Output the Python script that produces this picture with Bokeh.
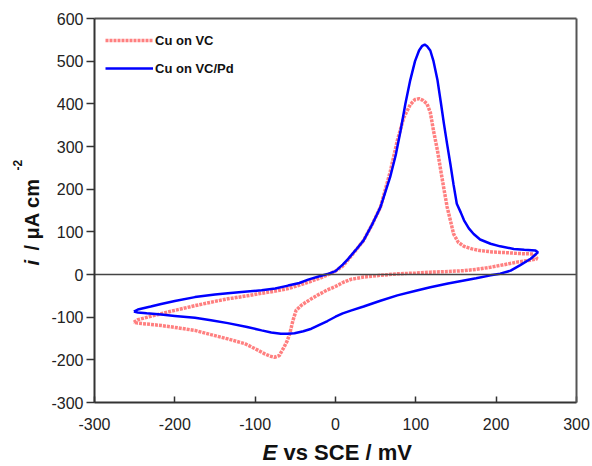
import math
from bokeh.plotting import figure
from bokeh.models import Range1d, Label, Legend, LegendItem, FixedTicker, LinearAxis
from bokeh.embed import file_html
from bokeh.resources import INLINE

# ---- data ----
vc_E = [-251, -246, -230, -217, -200, -175, -150, -134, -110, -92, -75, -59, -45, -34, -20, -10, 0, 9, 15, 25, 35,
        45, 56, 68, 77, 85, 93, 99, 104, 109, 114, 118, 122, 127, 131, 135, 139, 143, 147, 153, 160, 170, 180, 195,
        214, 230, 247, 251,
        240, 226, 210, 193, 175, 160, 140, 118, 100, 77, 55, 35, 20, 10, 0, -10, -20, -30, -37, -43, -49, -53, -57,
        -60, -64, -70, -76, -82, -88, -100, -113, -134, -155, -175, -200, -217, -235, -246, -251]
vc_i = [-112, -106, -98, -92, -84, -73, -63, -57, -50, -44, -39, -33, -25, -18, -9, -1, 8, 20, 33, 56, 80,
        115, 158, 240, 314, 368, 398, 410, 412, 408, 400, 380, 337, 290, 244, 200, 158, 127, 95, 75, 66, 60, 56, 53,
        51, 49, 48, 37,
        33, 29, 23, 17, 12, 9, 7, 5.5, 3.5, 1.5, -2, -6, -11, -18, -28, -36, -46, -57, -65, -73, -84, -108, -139,
        -155, -170, -190, -194, -191, -186, -174, -162, -151, -141, -131, -124, -119.5, -116, -114, -112]

pd_E = [-251, -246, -230, -217, -200, -175, -150, -134, -110, -92, -75, -59, -45, -34, -20, -10, 0, 9, 15, 25, 35,
        45, 56, 68, 75, 81, 87, 93, 99, 104, 108, 111, 114, 118, 122, 127, 131, 135, 139, 143, 147, 151, 156, 160,
        166, 172, 180, 193, 205, 222, 235, 249, 252,
        243, 230, 218, 205, 193, 175, 160, 140, 118, 100, 77, 55, 35, 20, 9, 0, -10, -20, -30, -40, -51, -60, -68,
        -80, -92, -110, -134, -155, -175, -200, -217, -235, -246, -251]
pd_i = [-87, -82, -75, -69, -62, -53, -47, -44, -40, -37, -33, -26, -20, -12, -4, 1, 8, 23, 35, 57, 80,
        115, 158, 228, 280, 337, 400, 455, 500, 525, 536, 539, 535, 525, 500, 455, 405, 353, 305, 259, 210, 166, 145,
        127, 108, 95, 82, 72, 66, 60, 58, 56, 52,
        37, 22, 9, 2, -2, -9, -14, -21, -30, -38, -49, -62, -75, -84, -91, -99, -109, -118, -127, -133, -137.5, -139,
        -139, -136, -131, -123, -114, -107, -101.5, -97, -94, -91, -89, -87]

x_ticks = [-300, -200, -100, 0, 100, 200, 300]
y_ticks = [-300, -200, -100, 0, 100, 200, 300, 400, 500, 600]
series_names = ["Cu on VC", "Cu on VC/Pd"]

FONT = "Liberation Sans"

# ---- layout: the frame covers the whole canvas; axes are pinned with fixed_location ----
W, H = 592, 466
PX_L, PX_R, PX_T, PX_B = 94, 576, 18, 402          # pixel box of the plotted region
XMIN, XMAX = x_ticks[0], x_ticks[-1]
YMIN, YMAX = y_ticks[0], y_ticks[-1]
ux = (XMAX - XMIN) / (PX_R - PX_L)
uy = (YMAX - YMIN) / (PX_B - PX_T)

p = figure(width=W, height=H, output_backend="svg", toolbar_location=None,
           x_range=Range1d(XMIN - PX_L * ux, XMAX + (W - PX_R) * ux),
           y_range=Range1d(YMIN - (H - PX_B) * uy, YMAX + PX_T * uy),
           min_border=0, min_border_left=0, min_border_right=0, min_border_top=0, min_border_bottom=0)
p.grid.visible = False
p.outline_line_color = None

xa = p.xaxis[0]
ya = p.yaxis[0]
xa.fixed_location = YMIN
ya.fixed_location = XMIN
xa.bounds = (XMIN, XMAX)
ya.bounds = (YMIN, YMAX)
for ax in (xa, ya):
    ax.axis_line_color = "#333333"
    ax.axis_line_width = 2
    ax.major_tick_line_color = "#333333"
    ax.major_tick_line_width = 1.5
    ax.minor_tick_line_color = None
    ax.major_label_text_font = FONT
    ax.major_label_text_font_size = "16px"
    ax.major_label_text_color = "#222222"
xa.ticker = FixedTicker(ticks=x_ticks)
ya.ticker = FixedTicker(ticks=y_ticks)
xa.major_label_overrides = {t: str(t) for t in x_ticks}
ya.major_label_overrides = {t: str(t) for t in y_ticks}
xa.major_tick_in = 6
xa.major_tick_out = 0
xa.major_label_standoff = 15
ya.major_tick_in = 0
ya.major_tick_out = 8
ya.major_label_standoff = 3


def frame_axis(side, loc, bounds, color, width):
    ax = LinearAxis(fixed_location=loc, bounds=bounds, ticker=FixedTicker(ticks=[]),
                    axis_line_color=color, axis_line_width=width,
                    major_tick_line_color=None, minor_tick_line_color=None,
                    major_label_text_font_size="0px")
    p.add_layout(ax, side)


frame_axis("above", YMAX, (XMIN, XMAX), "#555555", 2)   # top border
frame_axis("right", XMAX, (YMIN, YMAX), "#555555", 2)   # right border
frame_axis("below", 0, (XMIN, XMAX), "#444444", 1.5)    # zero line

r_vc = p.line(vc_E, vc_i, line_color="#ff8080", line_width=3.5, line_dash="3 1")
r_pd = p.line(pd_E, pd_i, line_color="#0000ff", line_width=2.5)

legend = Legend(items=[LegendItem(label=series_names[0], renderers=[r_vc]),
                       LegendItem(label=series_names[1], renderers=[r_pd])],
                location=(105, H - 78), background_fill_alpha=0, border_line_color=None,
                label_text_font=FONT, label_text_font_style="bold", label_text_font_size="13px",
                label_text_color="#111111",
                glyph_width=48, glyph_height=20, label_height=20, spacing=8, padding=0, margin=0,
                label_standoff=2)
p.add_layout(legend)


# axis titles with mixed styles; screen coords measured from the canvas bottom-left
def lab(text, sx, sy, size, style, angle=0.0):
    p.add_layout(Label(x=sx, y=sy, x_units="screen", y_units="screen", text=text, angle=angle,
                       text_font=FONT, text_font_size=size, text_font_style=style,
                       text_color="#111111", text_align="left", text_baseline="alphabetic"))


lab("E", 262, H - 452, "22px", "bold italic")
lab("vs SCE / mV", 283, H - 452, "22px", "bold")

lab("i", 31, H - 265, "20px", "bold italic", angle=math.pi / 2)
lab("/ \u03bcA cm", 31, H - 250, "20px", "bold", angle=math.pi / 2)
lab("-2", 17, H - 170, "12px", "bold", angle=math.pi / 2)

open("out.html", "w").write(file_html(p, INLINE))
